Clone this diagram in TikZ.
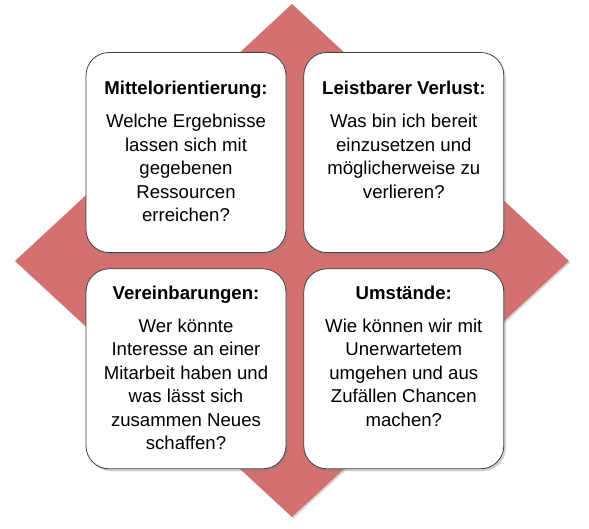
\documentclass[tikz,border=0pt]{standalone}
\usepackage{fontspec}
\setmainfont{Liberation Sans}
\usetikzlibrary{positioning,shadows}
\definecolor{raute}{RGB}{211,113,113}
\tikzset{%
        x = 1pt,
        y = 1pt,
        node distance = 17pt
}
\tikzset{karte/.style={
    draw = black!75,
    line width = 0.8pt,
    fill = white,
    rounded corners = 23pt,
    minimum width = 200pt,
    minimum height = 200pt,
    drop shadow = {shadow xshift=2pt, shadow yshift=-2.5pt, opacity=0.35}
}}
\tikzset{inhalt/.style={
    align = center,
    inner sep = 0pt,
    font = \fontsize{18.6}{23.5}\selectfont
}}
\newcommand{\titel}[1]{\textbf{#1}\\[9.5pt]}

\begin{document}
\begin{tikzpicture}
        \useasboundingbox (0,0) rectangle (589,-528);
        % Raute im Hintergrund
        \fill[raute, drop shadow={shadow xshift=1.5pt, shadow yshift=-1.5pt, opacity=0.3}]
        (292,-4) -- (569,-261) -- (292,-517) -- (15,-261) -- cycle;
        % vier Karten
        \node[karte] (mittel) at (186,-152.5) {};
        \node[karte] (verlust) [right = of mittel] {};
        \node[karte] (verein) [below = 15.5pt of mittel] {};
        \node[karte] (umst) [below = 15.5pt of verlust] {};
        % Texte
        \node[inhalt] (tmittel) [below = 29pt of mittel.north]
        {\titel{Mittelorientierung:}Welche Ergebnisse\\lassen sich mit\\gegebenen\\Ressourcen\\erreichen?};
        \node[inhalt] (tverlust) [below = 29pt of verlust.north]
        {\titel{Leistbarer Verlust:}Was bin ich bereit\\einzusetzen und\\möglicherweise zu\\verlieren?};
        \node[inhalt] (tverein) [below = 17pt of verein.north]
        {\titel{Vereinbarungen:}Wer könnte\\Interesse an einer\\Mitarbeit haben und\\was lässt sich\\zusammen Neues\\schaffen?};
        \node[inhalt] (tumst) [below = 17pt of umst.north]
        {\titel{Umstände:}Wie können wir mit\\Unerwartetem\\umgehen und aus\\Zufällen Chancen\\machen?};
    \end{tikzpicture}
\end{document}
